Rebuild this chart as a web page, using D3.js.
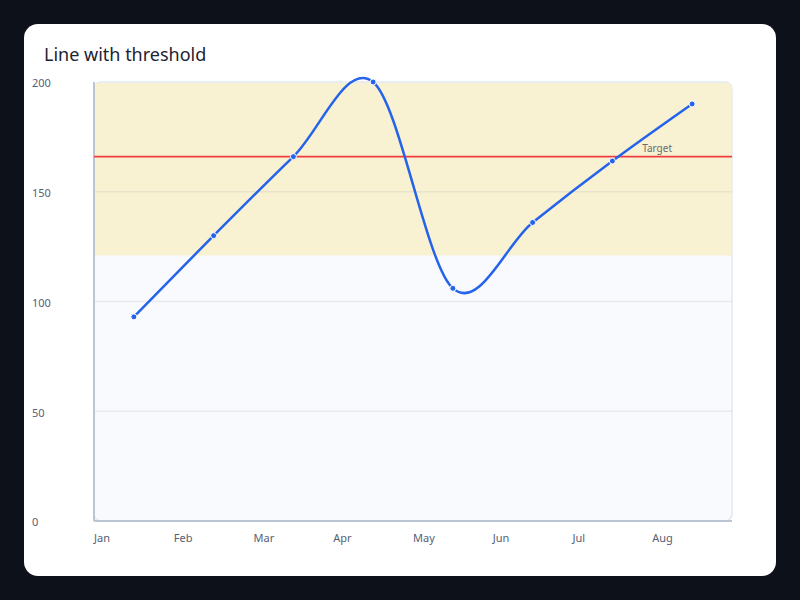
<!DOCTYPE html>
<html><head><meta charset="utf-8">
<script src="https://cdn.jsdelivr.net/npm/d3@7"></script>
<style>
html,body{margin:0;padding:0;background:#0d111a;}
svg{display:block;font-family:"Noto Sans",sans-serif;}
</style></head>
<body><svg id="c" width="800" height="600"></svg>
<script>
const months = ["Jan","Feb","Mar","Apr","May","Jun","Jul","Aug"];
const values = [93, 130, 166, 200, 106, 136, 164, 190];
const yTicks = [0, 50, 100, 150, 200];
const threshold = 166;
const bandLow = 121;
const bandHigh = 200;
const title = "Line with threshold";
const targetLabel = "Target";

const svg = d3.select("#c");
svg.append("rect").attr("x",24).attr("y",24).attr("width",752).attr("height",552).attr("rx",14).attr("fill","#ffffff");
svg.append("text").attr("x",44).attr("y",61).attr("font-size",18).attr("fill","#1c2333").text(title);

const L=94,R=732,T=82,B=521;
const x = d3.scaleBand().domain(months).range([L,R]);
const y = d3.scaleLinear().domain([0,200]).range([B,T]);

const defs = svg.append("defs");
defs.append("clipPath").attr("id","pc").append("rect").attr("x",L).attr("y",T).attr("width",R-L).attr("height",B-T).attr("rx",7);

const g = svg.append("g");
g.append("rect").attr("x",L).attr("y",T).attr("width",R-L).attr("height",B-T).attr("rx",7).attr("fill","#f8fafd").attr("stroke","#e4e7ee").attr("stroke-width",1.5);
g.append("rect").attr("clip-path","url(#pc)").attr("x",L).attr("y",y(bandHigh)+1).attr("width",R-L).attr("height",y(bandLow)-y(bandHigh)-1).attr("fill","#f8f1d2");

// gridlines
g.selectAll("line.grid").data(yTicks.filter(d=>d>0&&d<200)).enter().append("line")
  .attr("x1",L).attr("x2",R).attr("y1",d=>y(d)).attr("y2",d=>y(d))
  .attr("stroke","rgba(120,130,160,0.12)").attr("stroke-width",1.5);

// axes lines
g.append("line").attr("x1",L).attr("x2",L).attr("y1",T).attr("y2",B).attr("stroke","#bcc5d4").attr("stroke-width",2);
g.append("line").attr("x1",L).attr("x2",R).attr("y1",B).attr("y2",B).attr("stroke","#bcc5d4").attr("stroke-width",2);

// y tick labels
svg.selectAll("text.yt").data(yTicks).enter().append("text")
  .attr("x",32).attr("y",d=>y(d)+1.5).attr("dy","0.35em").attr("font-size",11).attr("fill","#566074").text(d=>d);
// x tick labels
svg.selectAll("text.xt").data(months).enter().append("text")
  .attr("x",d=>x(d)).attr("y",542).attr("font-size",11).attr("fill","#566074").text(d=>d);

// threshold
g.append("line").attr("x1",L).attr("x2",R).attr("y1",y(threshold)).attr("y2",y(threshold)).attr("stroke","#f03c3c").attr("stroke-width",1.6);
g.append("text").attr("x",672).attr("y",y(threshold)-5).attr("text-anchor","end").attr("font-size",10).attr("fill","#6b6b6b").text(targetLabel);

const data = months.map((m,i)=>({m,v:values[i]}));
const line = d3.line().x(d=>x(d.m)+x.bandwidth()/2).y(d=>y(d.v)).curve(d3.curveCardinal.tension(0));
g.append("path").datum(data).attr("d",line).attr("fill","none").attr("stroke","#2563eb").attr("stroke-width",2.5);
g.selectAll("circle").data(data).enter().append("circle")
  .attr("cx",d=>x(d.m)+x.bandwidth()/2).attr("cy",d=>y(d.v)).attr("r",3)
  .attr("fill","#2563eb").attr("stroke","#ffffff").attr("stroke-width",1);
</script></body></html>
